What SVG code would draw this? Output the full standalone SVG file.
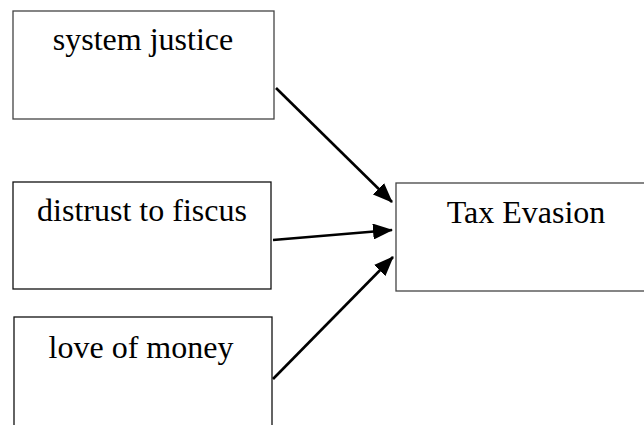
<svg xmlns="http://www.w3.org/2000/svg" width="644" height="425" viewBox="0 0 644 425">
<style>
  .box{fill:#fff;stroke:#444;stroke-width:1.3}
  .dark{stroke:#111}
  .lbl{font-family:"Liberation Serif","Times New Roman",serif;font-size:32px;fill:#000;text-anchor:middle}
  .conn{stroke:#000;stroke-width:2.6;fill:none;marker-end:url(#ah)}
</style>
<defs>
  <marker id="ah" markerUnits="userSpaceOnUse" markerWidth="20" markerHeight="16" refX="19" refY="8" orient="auto">
    <path d="M0,0 L20,8 L0,16 Z" fill="#000"/>
  </marker>
</defs>
<rect width="644" height="425" fill="#fff"/>
<g id="node-system-justice">
  <rect class="box" x="13" y="11" width="261" height="108"/>
  <text class="lbl" x="143" y="50">system justice</text>
</g>
<g id="node-distrust">
  <rect class="box dark" x="13" y="182" width="258" height="107"/>
  <text class="lbl" x="142" y="221">distrust to fiscus</text>
</g>
<g id="node-love-of-money">
  <rect class="box dark" x="14" y="317" width="258" height="120"/>
  <text class="lbl" x="141" y="358">love of money</text>
</g>
<g id="node-tax-evasion">
  <rect class="box" x="396" y="183" width="261" height="108"/>
  <text class="lbl" x="526" y="223">Tax Evasion</text>
</g>
<g id="connectors">
  <line class="conn" x1="276" y1="88" x2="392" y2="202"/>
  <line class="conn" x1="273" y1="240" x2="392" y2="230"/>
  <line class="conn" x1="273" y1="379" x2="393" y2="257"/>
</g>
</svg>
